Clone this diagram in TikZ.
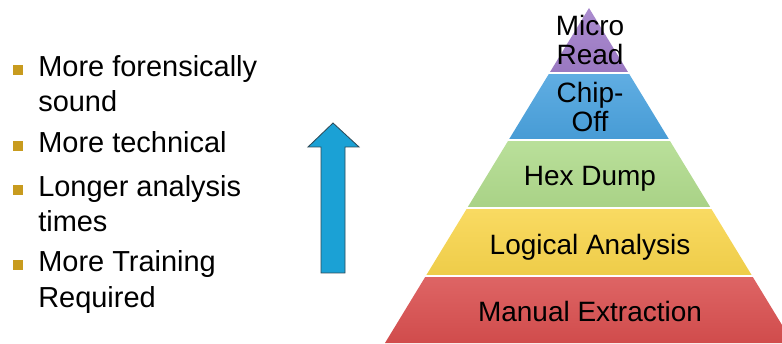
\documentclass[tikz,border=0pt]{standalone}
\usepackage{fontspec}
\setmainfont{Liberation Sans}
\usetikzlibrary{positioning}

\definecolor{bulletgold}{HTML}{C89B1E}
\definecolor{arrowblue}{HTML}{1BA1D5}
\definecolor{arrowedge}{HTML}{2C4A58}
\definecolor{layerred}{HTML}{D94F4F}
\definecolor{layeryellow}{HTML}{F8D54C}
\definecolor{layergreen}{HTML}{B0DB8C}
\definecolor{layerblue}{HTML}{4AA2DE}
\definecolor{layerpurple}{HTML}{A07DC9}

\tikzset{
  item/.style={anchor=base west, align=left, inner sep=0pt,
    font=\fontsize{20.6}{24.9}\selectfont},
  bul/.style={fill=bulletgold, minimum size=0.25cm, inner sep=0pt},
  level/.style={inner sep=0pt, text depth=0pt, align=center,
    font=\fontsize{19.9}{20.3}\selectfont},
}

\begin{document}
\begin{tikzpicture}
    \useasboundingbox (0,0) rectangle (19.55,8.575);

    % list on the left (base = last line)
    \node[item] (sound)    at (0.95,5.775) {More forensically\\sound};
    \node[item] (tech)     at (0.95,4.75)  {More technical};
    \node[item] (longer)   at (0.95,2.775) {Longer analysis\\times};
    \node[item] (training) at (0.95,0.9)   {More Training\\Required};

    \foreach \n in {sound, tech, longer, training}
        \node[bul] (bul-\n) at ([xshift=-0.5cm, yshift=-0.35cm]\n.north west) {};

    % up arrow
    \filldraw[fill=arrowblue, draw=arrowedge, line width=0.6pt]
        (8.025,1.75) -- (8.025,4.9) -- (7.7,4.9) -- (8.325,5.5)
        -- (8.975,4.9) -- (8.625,4.9) -- (8.625,1.75) -- cycle;

    % pyramid
    \coordinate (apex) at (14.725,8.375);
    \begin{scope}
        \clip (9.625,0) -- (apex) -- (19.825,0) -- cycle;
        \foreach \lo/\hi/\col in {0/1.625/layerred, 1.7/3.325/layeryellow,
                3.4/5.025/layergreen, 5.1/6.7/layerblue, 6.775/8.4/layerpurple}
            \shade[top color=\col!88!white, bottom color=\col!96!black] (9,\lo) rectangle (20,\hi);
    \end{scope}

    \node[level] (manual)  at (14.75,0.8)   {Manual Extraction};
    \node[level] (logical) at (14.75,2.475) {Logical Analysis};
    \node[level] (hexdump) at (14.75,4.175) {Hex Dump};
    \node[level] (chipoff) at (14.75,5.9)   {Chip-\\Off};
    \node[level] (micro)   at (14.75,7.575) {Micro\\Read};
\end{tikzpicture}
\end{document}
